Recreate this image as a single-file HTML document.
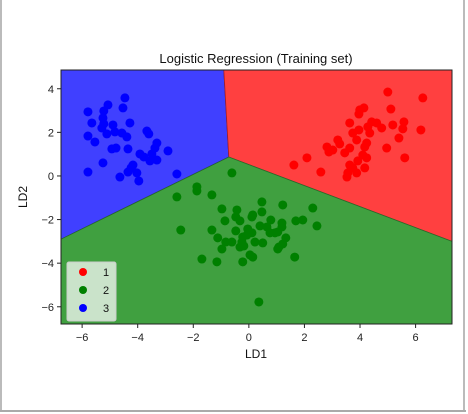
<!DOCTYPE html>
<html><head><meta charset="utf-8"><style>
body{margin:0;background:#fff;}
svg{display:block;font-family:"Liberation Sans","DejaVu Sans",sans-serif;}
</style></head><body>
<svg id="c" width="468" height="414">
<rect x="0" y="0" width="468" height="414" fill="#fff"/>
<line x1="1" y1="0" x2="1" y2="411" stroke="#bbb" stroke-width="2"/>
<line x1="464" y1="0" x2="464" y2="411" stroke="#bbb" stroke-width="2"/>
<line x1="0" y1="411" x2="466" y2="411" stroke="#aaa" stroke-width="2"/>
<g id="regions"></g>
<g id="pts"></g>
<rect x="61" y="70" width="391" height="254" fill="none" stroke="#222" stroke-width="1"/>
<g id="ticks"></g>
<text x="256" y="63" text-anchor="middle" font-size="13" fill="#111">Logistic Regression (Training set)</text>
<text x="256" y="358" text-anchor="middle" font-size="12" fill="#111">LD1</text>
<text x="0" y="0" transform="translate(27,197) rotate(-90)" text-anchor="middle" font-size="12" fill="#111">LD2</text>
<g>
<rect x="67" y="262" width="49" height="59" rx="2" fill="#e3eee3" fill-opacity="0.85" stroke="#ccc"/>
<circle cx="83" cy="272" r="4" fill="#ff0000"/>
<text x="103" y="276" font-size="11" fill="#111">1</text>
<circle cx="83" cy="290" r="4" fill="#008000"/>
<text x="103" y="294" font-size="11" fill="#111">2</text>
<circle cx="83" cy="308" r="4" fill="#0000ff"/>
<text x="103" y="312" font-size="11" fill="#111">3</text>
</g>
</svg>
<script>
const xTicks=[-6,-4,-2,0,2,4,6];
const yTicks=[-6,-4,-2,0,2,4];
const redX=[5.00,6.26,5.11,3.99,4.14,3.96,3.63,4.42,4.60,4.28,4.78,5.18,5.58,5.54,6.19,3.96,3.74,4.35,5.40,3.88,4.24,3.20,3.27,2.81,3.02,2.88,3.63,3.45,4.17,4.96,4.10,4.24,3.92,5.61,2.09,1.62,2.59,3.63,3.74,4.17,3.88,3.56,3.53];
const redY=[3.85,3.58,3.07,3.03,3.12,2.84,2.43,2.48,2.43,2.25,2.20,2.34,2.48,2.16,2.11,2.11,1.97,1.97,1.74,1.65,1.51,1.65,1.47,1.33,1.19,1.10,1.28,1.06,1.33,1.28,0.96,0.83,0.69,0.83,0.83,0.50,0.18,0.50,0.37,0.37,0.14,0.14,-0.05];
const blueX=[-5.79,-5.22,-5.07,-4.46,-4.53,-5.65,-5.25,-5.22,-5.29,-4.89,-5.11,-4.82,-4.57,-4.28,-4.39,-5.79,-5.54,-3.67,-3.60,-3.31,-3.38,-2.91,-4.93,-4.78,-4.35,-3.92,-3.78,-3.49,-3.56,-3.31,-4.17,-4.24,-4.35,-4.03,-5.25,-5.79,-4.64,-3.96,-2.59];
const blueY=[2.94,2.98,3.26,3.58,3.12,2.43,2.66,2.39,2.20,2.34,1.93,2.02,1.97,2.43,1.79,1.83,1.56,2.06,1.93,1.51,1.28,1.15,1.24,1.28,1.24,1.01,0.87,1.01,0.69,0.73,0.50,0.37,0.18,0.14,0.60,0.18,-0.05,-0.23,0.09];
const greenX=[-0.61,-1.87,-1.87,-2.59,-1.33,0.47,1.22,2.30,-0.97,-0.43,0.47,-0.47,0.11,0.14,-0.86,-0.32,0.79,1.19,1.69,1.94,2.45,0.40,0.65,1.19,-2.45,-1.33,-0.47,-0.04,0.11,0.76,0.94,1.04,-0.22,-0.07,-1.12,-0.83,-0.61,-0.25,0.22,0.50,1.33,1.22,-0.32,-0.18,-0.97,1.08,1.04,0.04,0.14,-1.69,-1.15,-0.22,1.65,0.36];
const greenY=[0.14,-0.50,-0.69,-0.96,-0.87,-1.19,-1.33,-1.47,-1.51,-1.56,-1.65,-1.88,-1.88,-1.79,-2.06,-2.06,-2.02,-2.16,-2.06,-2.02,-2.29,-2.29,-2.34,-2.34,-2.48,-2.48,-2.52,-2.43,-2.61,-2.61,-2.61,-2.57,-2.80,-2.71,-2.84,-3.03,-3.03,-3.03,-3.03,-3.07,-2.84,-3.12,-3.26,-3.21,-3.35,-3.26,-3.35,-3.62,-3.72,-3.81,-3.94,-3.94,-3.72,-5.78];
const xDomain=[-6.76,7.31];
const yDomain=[-6.79,4.86];
const boundaryTopX=-0.9, junctionX=-0.72, junctionY=0.87, leftEdgeY=-2.9, rightEdgeY=-3.0;

const L=61,R=452,T=70,B=324;
const sx=v=>L+(v-xDomain[0])/(xDomain[1]-xDomain[0])*(R-L);
const sy=v=>B-(v-yDomain[0])/(yDomain[1]-yDomain[0])*(B-T);
const NS="http://www.w3.org/2000/svg";
function pts(arr){return arr.map(p=>sx(p[0]).toFixed(1)+","+sy(p[1]).toFixed(1)).join(" ");}
const reg=document.getElementById('regions');
const [x0,x1]=xDomain,[y0,y1]=yDomain;
const regionDefs=[
 ['region-class-3',[[x0,y1],[boundaryTopX,y1],[junctionX,junctionY],[x0,leftEdgeY]],'#4040ff','#0000cc'],
 ['region-class-1',[[boundaryTopX,y1],[x1,y1],[x1,rightEdgeY],[junctionX,junctionY]],'#ff4040','#aa2020'],
 ['region-class-2',[[x0,leftEdgeY],[junctionX,junctionY],[x1,rightEdgeY],[x1,y0],[x0,y0]],'#40a040','#2a6a2a']
];
regionDefs.forEach(d=>{
 const p=document.createElementNS(NS,'polygon');
 p.setAttribute('points',pts(d[1]));
 p.setAttribute('fill',d[2]);
 p.setAttribute('stroke',d[3]);
 p.setAttribute('stroke-width','0.8');
 
 
 reg.appendChild(p);
});
const g=document.getElementById('pts');
function series(xs,ys,color,name){
 xs.forEach((x,i)=>{
  const c=document.createElementNS(NS,'circle');
  c.setAttribute('cx',sx(x));c.setAttribute('cy',sy(ys[i]));c.setAttribute('r',4.5);
  c.setAttribute('fill',color);
  
  
  g.appendChild(c);
 });
}
series(redX,redY,'#ff0000','point-class-1');
series(greenX,greenY,'#008000','point-class-2');
series(blueX,blueY,'#0000ff','point-class-3');
const tk=document.getElementById('ticks');
xTicks.forEach(v=>{
 const l=document.createElementNS(NS,'line');
 l.setAttribute('x1',sx(v));l.setAttribute('x2',sx(v));l.setAttribute('y1',B);l.setAttribute('y2',B+4);l.setAttribute('stroke','#222');
 
 
 tk.appendChild(l);
 const t=document.createElementNS(NS,'text');
 t.setAttribute('x',sx(v));t.setAttribute('y',B+17);t.setAttribute('text-anchor','middle');t.setAttribute('font-size','11');t.setAttribute('fill','#222');
 t.textContent=v<0?'\u2212'+(-v):String(v);
 
 
 tk.appendChild(t);
});
yTicks.forEach(v=>{
 const l=document.createElementNS(NS,'line');
 l.setAttribute('x1',L-4);l.setAttribute('x2',L);l.setAttribute('y1',sy(v));l.setAttribute('y2',sy(v));l.setAttribute('stroke','#222');
 
 
 tk.appendChild(l);
 const t=document.createElementNS(NS,'text');
 t.setAttribute('x',L-7);t.setAttribute('y',sy(v)+4);t.setAttribute('text-anchor','end');t.setAttribute('font-size','11');t.setAttribute('fill','#222');
 t.textContent=v<0?'\u2212'+(-v):String(v);
 
 
 tk.appendChild(t);
});
</script>
</body></html>
